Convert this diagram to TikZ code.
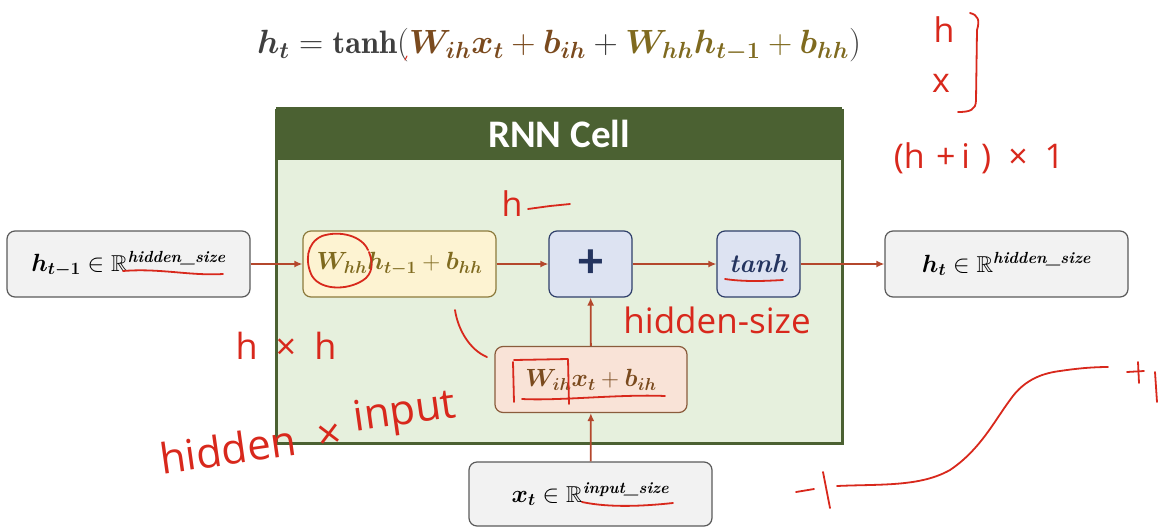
\documentclass[tikz,border=0pt]{standalone}
\usepackage{amsmath,amssymb}
\usepackage{graphicx}
\usepackage{fontspec}
\setsansfont{Carlito}
\newfontfamily\handfont{Open Sans}
\usetikzlibrary{arrows.meta,calc}
\definecolor{cellgreen}{HTML}{4B6132}
\definecolor{cellbody}{HTML}{E6F0DD}
\definecolor{iogray}{HTML}{5A5A5A}
\definecolor{iofill}{HTML}{F2F2F2}
\definecolor{hhborder}{HTML}{8C7A3C}
\definecolor{hhfill}{HTML}{FDF3D2}
\definecolor{opborder}{HTML}{2F3F6A}
\definecolor{opfill}{HTML}{DDE3F2}
\definecolor{ihborder}{HTML}{8A5C3C}
\definecolor{ihfill}{HTML}{F9E3D7}
\definecolor{arrowc}{HTML}{B4472C}
\definecolor{olive}{HTML}{7F6A1F}
\definecolor{brownt}{HTML}{7A4A1E}
\definecolor{darkt}{HTML}{3F3F3F}
\definecolor{navy}{HTML}{24345F}
\definecolor{ink}{HTML}{D8281C}
\tikzset{
  box/.style={rounded corners=8pt, line width=1.2pt, minimum height=66pt, inner sep=0pt, font=\fontsize{23}{27}\selectfont},
  iobox/.style={box, draw=iogray, fill=iofill, minimum width=243pt},
  hhbox/.style={box, draw=hhborder, fill=hhfill, minimum width=193pt, text=olive},
  opbox/.style={box, draw=opborder, fill=opfill, minimum width=83pt, text=navy},
  ihbox/.style={box, draw=ihborder, fill=ihfill, minimum width=192pt, text=brownt},
  conn/.style={draw=arrowc, line width=1.8pt, -{Latex[length=8pt,width=7pt]}},
  pen/.style={draw=ink, line width=1.8pt, line cap=round, line join=round},
  hand/.style={text=ink, font=\handfont\fontsize{34}{38}\selectfont, inner sep=0pt}
}
\newcommand{\bs}[1]{\boldsymbol{#1}}
\newcommand{\sz}[1]{\textbf{\textit{#1}}}
\begin{document}
\begin{tikzpicture}[x=1pt,y=-1pt]
\useasboundingbox (0,0) rectangle (1162,528);
% equation
\node[font=\fontsize{24}{28}\selectfont, inner sep=0pt] (eq) at (559,45)
  {\scalebox{1.35}{$\color{darkt}\bs{h_t}=\mathbf{tanh}(\color{brownt}\bs{W_{ih}x_t}+\bs{b_{ih}}\color{darkt}+\color{olive}\bs{W_{hh}h_{t-1}}+\bs{b_{hh}}\color{darkt})$}};
% cell
\node[draw=cellgreen, line width=3pt, fill=cellbody, minimum width=566pt, minimum height=333pt, inner sep=0pt] (cell) at (559,276.5) {};
\node[fill=cellgreen, minimum width=566pt, minimum height=53pt, inner sep=0pt, anchor=north, text=white, font=\sffamily\bfseries\fontsize{39}{44}\selectfont] (hdr) at ($(cell.north)+(0,-1.5)$) {RNN Cell};
% boxes
\node[iobox] (hprev) at (128.5,264) {$\bs{h_{t-1}}\in\mathbb{R}^{\sz{hidden\_size}}$};
\node[hhbox] (whh) at (399.5,264) {$\bs{W_{hh}h_{t-1}}+\bs{b_{hh}}$};
\node[opbox, font=\sffamily\bfseries\fontsize{50}{50}\selectfont] (plus) at (590.5,264) {+};
\node[opbox, font=\fontsize{26}{30}\selectfont] (tanh) at (758.5,264) {\textbf{\textit{tanh}}};
\node[iobox] (ht) at (1006.5,264) {$\bs{h_t}\in\mathbb{R}^{\sz{hidden\_size}}$};
\node[ihbox] (wih) at (591,379.5) {$\bs{W_{ih}x_t}+\bs{b_{ih}}$};
\node[iobox, minimum height=64pt] (xt) at (590.5,494) {$\bs{x_t}\in\mathbb{R}^{\sz{input\_size}}$};
% connectors
\draw[conn] (hprev) -- (whh);
\draw[conn] (whh) -- (plus);
\draw[conn] (plus) -- (tanh);
\draw[conn] (tanh) -- (ht);
\draw[conn] (wih) -- (plus);
\draw[conn] (xt) -- (wih);
% handwritten annotations
\draw[pen, line width=1pt] (407,56) -- (405,60);
\node[hand] (ah) at (944,30) {h};
\node[hand] (ax) at (941,83) {x};
\draw[pen] (970,13) .. controls (978,15) and (980,20) .. (977,30) -- (976,100) .. controls (976,110) and (970,112) .. (958,112);
\node[hand] (ahi) at (979,158) {(h\,\,+\,i\,\,)\,\,\,×\,\,\,1};
\node[hand] (ahd) at (512,204) {h};
\draw[pen] (528,209) -- (550,206) -- (570,204);
\node[hand, font=\handfont\fontsize{35}{40}\selectfont] (ahs) at (717,320) {hidden-size};
\node[hand, font=\handfont\fontsize{36}{40}\selectfont] (ahh) at (286,346) {h\,\,\,×\,\,\,h};
\node[hand, font=\handfont\fontsize{42}{46}\selectfont, rotate=8] (ahx1) at (228,449) {hidden};
\node[hand, font=\handfont\fontsize{42}{46}\selectfont, rotate=8] (ahx2) at (330,437) {×};
\node[hand, font=\handfont\fontsize{42}{46}\selectfont, rotate=8] (ahx3) at (405,414) {input};
\draw[pen] (455,310) .. controls (458,330) and (470,350) .. (487,357);
\draw[pen] (837,486) .. controls (880,484) and (920,487) .. (950,470) .. controls (980,450) and (995,420) .. (1010,400) .. controls (1025,378) and (1045,373) .. (1060,371) .. controls (1080,368) and (1095,367) .. (1108,367);
\draw[pen] (796,492) -- (814,489);
\draw[pen] (823,472) -- (830,508);
\draw[pen] (1127,372) -- (1144,371);
\draw[pen] (1138,362) -- (1139,383);
\draw[pen] (1155,372) -- (1157,402);
% underlines and marks on the boxes
\draw[pen] (123,271) .. controls (160,268) and (190,276) .. (223,274);
\draw[pen] (725,279) .. controls (745,282) and (765,281) .. (783,280);
\draw[pen] (368,250) .. controls (362,236) and (340,230) .. (322,236) .. controls (306,243) and (305,262) .. (312,276) .. controls (322,292) and (352,290) .. (366,278) .. controls (374,270) and (372,260) .. (369,252);
\draw[pen] (513,362) -- (514,402);
\draw[pen] (514,360) -- (568,359) -- (569,404);
\draw[pen] (522,399) .. controls (560,401) and (620,394) .. (665,396);
\draw[pen] (582,502) .. controls (610,508) and (645,506) .. (673,503);
\end{tikzpicture}
\end{document}
